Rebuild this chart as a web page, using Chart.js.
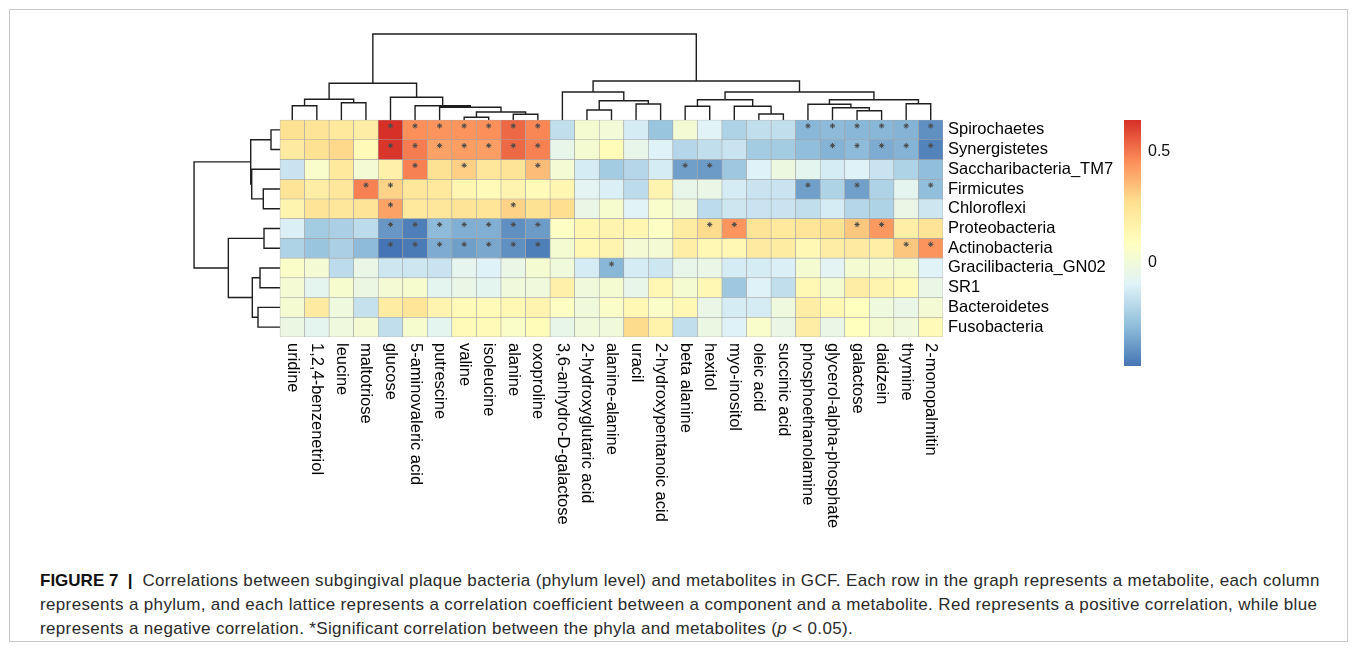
<!DOCTYPE html>
<html>
<head>
<meta charset="utf-8">
<script src="https://cdn.jsdelivr.net/npm/chart.js@4.4.1/dist/chart.umd.min.js"></script>
<style>
  body { margin: 0; background: #fff; width: 1356px; height: 650px; position: relative; overflow: hidden;
         font-family: "Liberation Sans", Arial, sans-serif; }
  #frame { position: absolute; left: 9px; top: 9px; width: 1337px; height: 631px; border: 1px solid #c8c8c8; }
  #wrap { position: absolute; left: 0; top: 0; width: 1356px; height: 540px; }
  #colorbar { position: absolute; left: 1124px; width: 17px; }
  .cb-label { position: absolute; left: 1148px; font-size: 16px; color: #111; transform: translateY(-50%); }
  #caption { position: absolute; left: 40px; top: 569px; font-size: 17px; letter-spacing: 0.35px; line-height: 24px;
             color: #2a2a2a; white-space: nowrap; }
  #caption b { color: #111; letter-spacing: 0; }
</style>
</head>
<body>
<div id="frame"></div>
<div id="wrap"><canvas id="heat" width="1356" height="540"></canvas></div>
<div id="colorbar"></div>
<div id="caption"><b>FIGURE 7 &nbsp;|&nbsp;</b> Correlations between subgingival plaque bacteria (phylum level) and metabolites in GCF. Each row in the graph represents a metabolite, each column<br>represents a phylum, and each lattice represents a correlation coefficient between a component and a metabolite. Red represents a positive correlation, while blue<br>represents a negative correlation. *Significant correlation between the phyla and metabolites (<i>p</i> &lt; 0.05).</div>
<script>
const metabolites = ['uridine', '1,2,4-benzenetriol', 'leucine', 'maltotriose', 'glucose', '5-aminovaleric acid',
  'putrescine', 'valine', 'isoleucine', 'alanine', 'oxoproline', '3,6-anhydro-D-galactose', '2-hydroxyglutaric acid',
  'alanine-alanine', 'uracil', '2-hydroxypentanoic acid', 'beta alanine', 'hexitol', 'myo-inositol', 'oleic acid',
  'succinic acid', 'phosphoethanolamine', 'glycerol-alpha-phosphate', 'galactose', 'daidzein', 'thymine', '2-monopalmitin'];

const phyla = ['Spirochaetes', 'Synergistetes', 'Saccharibacteria_TM7', 'Firmicutes', 'Chloroflexi', 'Proteobacteria',
  'Actinobacteria', 'Gracilibacteria_GN02', 'SR1', 'Bacteroidetes', 'Fusobacteria'];

// correlation per phylum, one value per metabolite (same order as above)
const spirochaetes   = [0.26, 0.25, 0.22, 0.19, 0.64, 0.45, 0.44, 0.44, 0.45, 0.53, 0.47, -0.17, 0.03, 0.01, -0.12, -0.26, 0.02, -0.09, -0.21, -0.17, -0.17, -0.30, -0.29, -0.30, -0.30, -0.31, -0.40];
const synergistetes  = [0.21, 0.26, 0.29, 0.12, 0.63, 0.49, 0.41, 0.42, 0.42, 0.53, 0.48, -0.05, 0.03, 0.11, -0.05, -0.10, -0.20, -0.17, -0.15, -0.24, -0.24, -0.28, -0.31, -0.29, -0.33, -0.31, -0.43];
const saccharibacteria = [-0.15, 0.05, 0.22, 0.02, 0.17, 0.48, 0.26, 0.31, 0.23, 0.25, 0.35, 0.02, -0.12, -0.24, -0.20, -0.12, -0.36, -0.37, -0.25, -0.10, -0.02, -0.07, -0.12, -0.10, -0.15, -0.21, -0.28];
const firmicutes     = [0.25, 0.19, 0.23, 0.48, 0.30, 0.23, 0.22, 0.14, 0.12, 0.15, 0.12, 0.14, -0.08, -0.11, -0.18, 0.15, -0.05, -0.04, -0.12, -0.15, -0.15, -0.36, -0.21, -0.36, -0.21, -0.07, -0.28];
const chloroflexi    = [0.15, 0.25, 0.23, 0.25, 0.41, 0.22, 0.23, 0.25, 0.24, 0.30, 0.26, 0.27, -0.04, 0.04, -0.09, 0.05, 0.00, -0.18, -0.14, -0.15, -0.15, -0.17, -0.12, -0.20, -0.21, -0.04, -0.14];
const proteobacteria = [-0.11, -0.24, -0.22, -0.18, -0.38, -0.44, -0.29, -0.32, -0.32, -0.40, -0.37, 0.07, 0.14, 0.15, 0.14, 0.07, 0.20, 0.28, 0.44, 0.25, 0.22, 0.24, 0.26, 0.33, 0.43, 0.18, 0.25];
const actinobacteria = [-0.21, -0.26, -0.22, -0.29, -0.465, -0.45, -0.33, -0.36, -0.34, -0.40, -0.44, 0.03, 0.13, 0.15, 0.02, 0.02, 0.18, 0.13, 0.13, 0.21, 0.20, 0.13, 0.19, 0.21, 0.18, 0.33, 0.44];
const gracilibacteria = [0.06, 0.02, -0.18, -0.04, -0.14, -0.14, -0.15, -0.06, -0.10, -0.04, 0.03, 0.00, -0.12, -0.30, -0.12, -0.14, -0.05, -0.04, -0.12, -0.12, -0.11, 0.03, -0.08, 0.03, 0.02, 0.03, -0.09];
const sr1            = [0.02, -0.07, 0.04, -0.03, 0.02, 0.04, -0.07, -0.04, -0.07, 0.00, 0.00, 0.17, 0.00, 0.03, -0.05, 0.13, 0.03, 0.13, -0.25, -0.10, -0.17, 0.13, 0.03, 0.19, 0.15, 0.12, -0.04];
const bacteroidetes  = [0.03, 0.21, -0.01, -0.16, 0.20, 0.24, 0.15, 0.12, 0.12, 0.13, 0.15, 0.07, 0.00, 0.06, 0.13, 0.06, 0.13, -0.04, -0.12, -0.12, -0.01, 0.19, 0.13, 0.09, -0.01, -0.04, 0.02];
const fusobacteria   = [-0.03, -0.07, -0.01, 0.02, -0.17, 0.04, -0.07, 0.12, 0.12, 0.06, 0.11, -0.05, 0.00, 0.00, 0.28, 0.16, -0.17, -0.03, -0.10, 0.05, -0.04, 0.19, -0.04, 0.09, 0.03, 0.00, 0.12];
const corrRows = [spirochaetes, synergistetes, saccharibacteria, firmicutes, chloroflexi, proteobacteria,
  actinobacteria, gracilibacteria, sr1, bacteroidetes, fusobacteria];

// metabolite indices marked * (p < 0.05), per phylum
const signif = [
  [4, 5, 6, 7, 8, 9, 10, 21, 22, 23, 24, 25, 26],
  [4, 5, 6, 7, 8, 9, 10, 22, 23, 24, 25, 26],
  [5, 7, 10, 16, 17],
  [3, 4, 21, 23, 26],
  [4, 9],
  [4, 5, 6, 7, 8, 9, 10, 17, 18, 23, 24],
  [4, 5, 6, 7, 8, 9, 10, 25, 26],
  [13],
  [], [], []
];

// hclust style merges: negative = leaf (1-based), positive = earlier merge; third = height
const colMerges = [
  [-1, -2, 14.3], [-3, -4, 17.3], [1, 2, 20.7], [-8, -9, 2.7], [-10, -11, 5.7], [4, 5, 8.0],
  [-7, 6, 12.7], [-6, 7, 14.3], [-5, 8, 22.7], [3, 9, 36.7],
  [-13, -14, 10.0], [-15, -16, 16.0], [11, 12, 19.3], [-12, 13, 28.0],
  [-17, -18, 13.7], [-20, -21, 6.0], [-19, 16, 13.7], [15, 17, 20.3],
  [-24, -25, 9.3], [-23, 19, 12.3], [-22, 20, 15.7], [-26, -27, 16.3], [21, 22, 20.3],
  [18, 23, 28.0], [14, 24, 39.0], [10, 25, 86.0]
];
const rowMerges = [
  [-1, -2, 9.0], [-4, -5, 16.7], [-3, 2, 28.3], [1, 3, 29.3],
  [-6, -7, 16.0], [-8, -9, 20.0], [-10, -11, 22.0], [6, 7, 27.7], [5, 8, 51.7], [4, 9, 86.0]
];
const colorbarTicks = [0.5, 0];

const palette = ['#4575B4', '#91BFDB', '#E0F3F8', '#FFFFBF', '#FEE090', '#FC8D59', '#D73027'];
const allVals = corrRows.flat();
const vmin = Math.min(...allVals), vmax = Math.max(...allVals);

function hexRgb(h) { return [1, 3, 5].map(i => parseInt(h.slice(i, i + 2), 16)); }
function colorFor(v) {
  const t = Math.max(0, Math.min(1, (v - vmin) / (vmax - vmin))) * (palette.length - 1);
  const i = Math.min(palette.length - 2, Math.floor(t)), f = t - i;
  const a = hexRgb(palette[i]), b = hexRgb(palette[i + 1]);
  const c = a.map((x, k) => Math.round(x + (b[k] - x) * f));
  return `rgb(${c[0]},${c[1]},${c[2]})`;
}

const nRows = phyla.length, nCols = metabolites.length;
const colTreeSpan = 4.36;   // y units used by the column dendrogram
const rowTreeSpan = 3.5;    // x units used by the row dendrogram

// positions of nodes in a tree (leaves in display order)
function layoutTree(merges) {
  const pos = [], hgt = [];
  const get = (id) => id < 0 ? [-id - 1, 0] : [pos[id - 1], hgt[id - 1]];
  const segs = [];
  merges.forEach(([a, b, h], i) => {
    const [pa, ha] = get(a), [pb, hb] = get(b);
    pos[i] = (pa + pb) / 2; hgt[i] = h;
    segs.push([pa, ha, pb, hb, h]);
  });
  return segs;
}
const maxH = Math.max(...colMerges.map(m => m[2]), ...rowMerges.map(m => m[2]));

const colTree = [];
layoutTree(colMerges).forEach(([pa, ha, pb, hb, h]) => {
  const y = v => nRows + v / maxH * colTreeSpan;
  colTree.push({x: pa + 0.5, y: y(ha)}, {x: pa + 0.5, y: y(h)}, {x: pb + 0.5, y: y(h)}, {x: pb + 0.5, y: y(hb)}, {x: pb + 0.5, y: null});
});
const rowTree = [];
layoutTree(rowMerges).forEach(([pa, ha, pb, hb, h]) => {
  const x = v => -v / maxH * rowTreeSpan;
  const ry = p => nRows - p - 0.5;
  rowTree.push({x: x(ha), y: ry(pa)}, {x: x(h), y: ry(pa)}, {x: x(h), y: ry(pb)}, {x: x(hb), y: ry(pb)}, {x: x(hb), y: null});
});

const cellSets = corrRows.map((vals, r) => ({
  type: 'bar',
  data: vals.map((v, i) => ({x: i + 0.5, y: [nRows - r - 1, nRows - r]})),
  backgroundColor: vals.map(colorFor),
  borderColor: '#a3a3a3',
  borderWidth: 0.6,
  borderSkipped: false,
  grouped: false,
  barPercentage: 1,
  categoryPercentage: 1,
  order: 2
}));

const stars = [];
signif.forEach((cols, r) => cols.forEach(c => stars.push({x: c + 0.5, y: nRows - r - 0.5 + 0.2})));

const labelPlugin = {
  id: 'heatLabels',
  afterDatasetsDraw(chart) {
    const {ctx, scales: {x, y}} = chart;
    ctx.save();
    ctx.fillStyle = '#000';
    ctx.font = '16.5px "Liberation Sans", Arial, sans-serif';
    ctx.textAlign = 'left';
    ctx.textBaseline = 'middle';
    phyla.forEach((p, r) => ctx.fillText(p, x.getPixelForValue(nCols) + 5, y.getPixelForValue(nRows - r - 0.5)));
    const top = y.getPixelForValue(0) + 6;
    metabolites.forEach((m, i) => {
      ctx.save();
      ctx.translate(x.getPixelForValue(i + 0.5), top);
      ctx.rotate(Math.PI / 2);
      ctx.fillText(m, 0, 0);
      ctx.restore();
    });
    ctx.restore();
  }
};

new Chart(document.getElementById('heat'), {
  type: 'bar',
  data: {
    datasets: [
      {type: 'scatter', data: stars, pointStyle: 'star', pointRadius: 2.6, borderColor: '#4a4a4a',
       borderWidth: 1, backgroundColor: 'rgba(0,0,0,0)', order: 0},
      ...cellSets,
      {type: 'line', data: colTree, borderColor: '#1e1e1e', borderWidth: 1.4, pointRadius: 0,
       fill: false, spanGaps: false, tension: 0, clip: false, order: 3},
      {type: 'line', data: rowTree, borderColor: '#1e1e1e', borderWidth: 1.4, pointRadius: 0,
       fill: false, spanGaps: false, tension: 0, clip: false, order: 3}
    ]
  },
  options: {
    responsive: false,
    animation: false,
    events: [],
    layout: {padding: {left: 191.6, right: 413, top: 31.2, bottom: 203}},
    plugins: {legend: {display: false}, tooltip: {enabled: false}},
    scales: {
      x: {type: 'linear', min: -3.6, max: nCols, offset: false, display: false,
          afterBuildTicks: s => { s.ticks = metabolites.map((m, i) => ({value: i + 0.5})); }},
      y: {type: 'linear', min: 0, max: 15.5, offset: false, display: false,
          afterBuildTicks: s => { s.ticks = phyla.map((p, i) => ({value: i + 0.5})); }}
    }
  },
  plugins: [labelPlugin]
});

// colour key, same range as the cells
const cbTop = 120, cbHeight = 246;
const bar = document.getElementById('colorbar');
bar.style.top = cbTop + 'px';
bar.style.height = cbHeight + 'px';
bar.style.background = 'linear-gradient(to top, ' + palette.join(', ') + ')';
colorbarTicks.forEach(t => {
  const el = document.createElement('div');
  el.className = 'cb-label';
  el.textContent = String(t);
  el.style.top = (cbTop + cbHeight - (t - vmin) / (vmax - vmin) * cbHeight) + 'px';
  document.body.appendChild(el);
});
</script>
</body>
</html>
